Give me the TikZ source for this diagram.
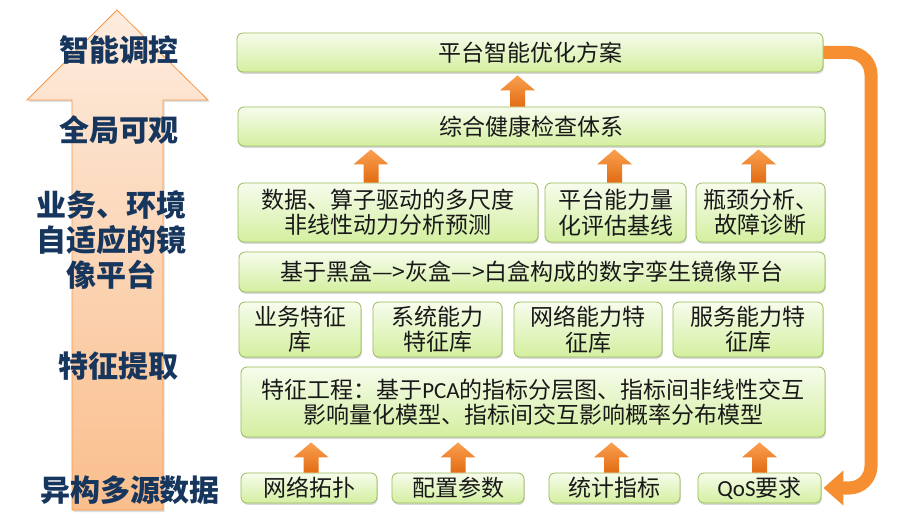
\documentclass[tikz,border=0pt]{standalone}
\usepackage{fontspec}
\setmainfont{Noto Sans CJK SC}
\newfontfamily\lat{Carlito}
\usetikzlibrary{shadows,arrows.meta,calc}
\definecolor{boxline}{RGB}{155,187,89}
\definecolor{boxtop}{RGB}{246,252,236}
\definecolor{boxbot}{RGB}{212,239,160}
\definecolor{navy}{RGB}{23,54,93}
\definecolor{orA}{RGB}{250,160,80}
\definecolor{orB}{RGB}{226,108,20}
\definecolor{fbor}{RGB}{245,143,50}
\definecolor{bigtop}{RGB}{253,236,222}
\definecolor{bigbot}{RGB}{250,190,140}
\definecolor{bigline}{RGB}{247,150,70}
\tikzset{
  box/.style={draw=boxline, line width=0.8pt, rounded corners=6pt,
    top color=boxtop, bottom color=boxbot,
    drop shadow={shadow xshift=0.8pt,shadow yshift=-1.8pt,opacity=0.3},
    inner sep=0pt, align=center, text=black!90,
    font=\fontsize{23}{25.5}\selectfont},
  lbl/.style={text=navy, align=center, inner sep=0pt,
    font=\fontsize{30}{35}\selectfont\bfseries},
  barrowstyle/.style={top color=orA, bottom color=orB},
  fb/.style={draw=fbor, line width=13pt, rounded corners=22pt,
    -{Triangle[length=20pt,width=34pt]}}
}
\newcommand\barrow[2]{\path[barrowstyle] let \p1=(#1), \p2=(#2) in
  (\x1-7.5pt,\y1) -- (\x1-7.5pt,\y2-15pt) -- (\x1-17.5pt,\y2-15pt) -- (\x1,\y2)
  -- (\x1+17.5pt,\y2-15pt) -- (\x1+7.5pt,\y2-15pt) -- (\x1+7.5pt,\y1) -- cycle;}
\begin{document}
\begin{tikzpicture}[x=1pt,y=-1pt]
\useasboundingbox[fill=white] (0,0) rectangle (900,518);
% big arrow
\path[draw=bigline, line width=0.8pt, top color=bigtop, bottom color=bigbot,
  drop shadow={shadow xshift=1.5pt,shadow yshift=-2pt,opacity=0.25}]
  (117,10) -- (208,100) -- (163,100) -- (163,510) -- (72,510) -- (72,100) -- (27,100) -- cycle;
% left labels
\node[lbl] (L1) at (119,50) {智能调控};
\node[lbl] (L2) at (119,130) {全局可观};
\node[lbl] (L3) at (111,240) {业务、环境\\自适应的镜\\像平台};
\node[lbl] (L4) at (118,366) {特征提取};
\node[lbl] (L5) at (130,490) {异构多源数据};
% boxes
\node[box, minimum width=586pt, minimum height=39pt] (A) at (530,52.5) {平台智能优化方案};
\node[box, minimum width=587pt, minimum height=39pt] (B) at (531.5,126.5) {综合健康检查体系};
\node[box, minimum width=300pt, minimum height=59pt] (C1) at (388,212.5) {数据、算子驱动的多尺度\\非线性动力分析预测};
\node[box, minimum width=141pt, minimum height=59pt] (C2) at (615.5,212.5) {平台能力量\\化评估基线};
\node[box, minimum width=129pt, minimum height=59pt] (C3) at (760.5,212.5) {瓶颈分析、\\故障诊断};
\node[box, minimum width=586pt, minimum height=40pt] (G) at (532,272) {基于黑盒—>灰盒—>白盒构成的数字孪生镜像平台};
\node[box, minimum width=122pt, minimum height=55pt] (D1) at (300,329.5) {业务特征\\库};
\node[box, minimum width=129pt, minimum height=55pt] (D2) at (437.5,329.5) {系统能力\\特征库};
\node[box, minimum width=148pt, minimum height=55pt] (D3) at (588,329.5) {网络能力特\\征库};
\node[box, minimum width=150pt, minimum height=55pt] (D4) at (748,329.5) {服务能力特\\征库};
\node[box, minimum width=584pt, minimum height=70pt] (F) at (533,402) {特征工程：基于{\lat PCA}的指标分层图、指标间非线性交互\\影响量化模型、指标间交互影响概率分布模型};
\node[box, minimum width=136pt, minimum height=30pt] (E1) at (309,488) {网络拓扑};
\node[box, minimum width=132pt, minimum height=30pt] (E2) at (458,488) {配置参数};
\node[box, minimum width=131pt, minimum height=30pt] (E3) at (614.5,488) {统计指标};
\node[box, minimum width=123pt, minimum height=30pt] (E4) at (759.5,488) {{\lat QoS}要求};
% block arrows
\barrow{$(B.north)+(-14,0)$}{$(A.south)+(-14,3)$}
\barrow{$(C1.north)+(-17,0)$}{$(B.south)+(0,3)$}
\barrow{$(C2.north)+(-1,0)$}{$(B.south)+(0,3)$}
\barrow{$(C3.north)+(-2,0)$}{$(B.south)+(0,3)$}
\barrow{$(E1.north)+(2,0)$}{$(F.south)+(0,5)$}
\barrow{$(E2.north)+(0,0)$}{$(F.south)+(0,5)$}
\barrow{$(E3.north)+(-3,0)$}{$(F.south)+(0,5)$}
\barrow{$(E4.north)+(0,0)$}{$(F.south)+(0,5)$}
% feedback connector
\coordinate (rail) at (871,0);
\draw[fb] (A.east) -- (A.east -| rail) -- (E4.east -| rail) -- ($(E4.east)+(2,0)$);
\end{tikzpicture}
\end{document}
